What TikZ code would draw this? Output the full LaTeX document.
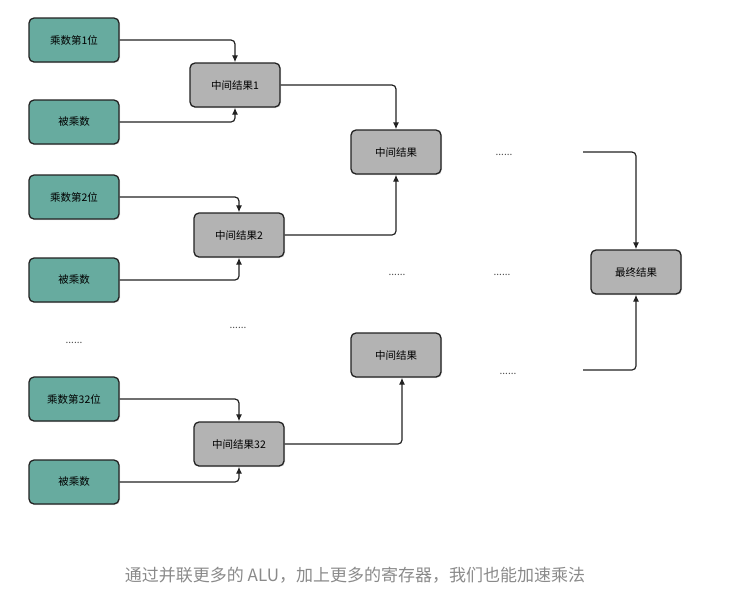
\documentclass[tikz,border=0pt]{standalone}
\usepackage{fontspec}
\setmainfont{Noto Sans CJK SC}
\usetikzlibrary{arrows.meta,shadows}
\definecolor{tealfill}{HTML}{67AB9F}
\definecolor{grayfill}{HTML}{B3B3B3}
\definecolor{edge}{HTML}{222222}
\definecolor{captiongray}{HTML}{8A8A8A}
\tikzset{
  box/.style={draw=edge, line width=1.3pt, rounded corners=5pt, minimum width=90pt, minimum height=44pt,
    inner sep=0pt, font=\fontsize{10.5}{12}\selectfont, drop shadow={shadow xshift=1pt, shadow yshift=-1pt, opacity=0.25}},
  inbox/.style={box, fill=tealfill},
  midbox/.style={box, fill=grayfill},
  conn/.style={draw=edge, line width=1.2pt, rounded corners=4pt, -{Latex[length=7pt,width=6pt]}},
  dots/.style={font=\fontsize{10}{12}\selectfont, text=black!70, inner sep=0pt}
}
\begin{document}
\begin{tikzpicture}[x=1pt,y=-1pt]
\useasboundingbox (0,0) rectangle (737,598);
% input boxes
\node[inbox] (m1) at (74,40) {乘数第1位};
\node[inbox] (b1) at (74,122) {被乘数};
\node[inbox] (m2) at (74,197) {乘数第2位};
\node[inbox] (b2) at (74,280) {被乘数};
\node[inbox] (m32) at (74,399) {乘数第32位};
\node[inbox] (b32) at (74,482) {被乘数};
% intermediate
\node[midbox] (r1) at (235,85) {中间结果1};
\node[midbox] (r2) at (239,235) {中间结果2};
\node[midbox] (r32) at (239,444) {中间结果32};
\node[midbox] (s1) at (396,152) {中间结果};
\node[midbox] (s2) at (396,355) {中间结果};
\node[midbox] (fin) at (636,272) {最终结果};
% free ends
\coordinate (t1) at (583,152);
\coordinate (t2) at (583,370);
% connectors
\draw[conn] (m1.east) -| (r1.north);
\draw[conn] (b1.east) -| (r1.south);
\draw[conn] (m2.east) -| (r2.north);
\draw[conn] (b2.east) -| (r2.south);
\draw[conn] (m32.east) -| (r32.north);
\draw[conn] (b32.east) -| (r32.south);
\draw[conn] (r1.east) -| (s1.north);
\draw[conn] (r2.east) -| (s1.south);
\draw[conn] (r32.east) -| ([xshift=6pt]s2.south);
\draw[conn] (t1) -| (fin.north);
\draw[conn] (t2) -| (fin.south);
% dots
\node[dots] (d1) at (504,155) {......};
\node[dots] (d2) at (397,275) {......};
\node[dots] (d3) at (502,275) {......};
\node[dots] (d4) at (238,328) {......};
\node[dots] (d5) at (74,343) {......};
\node[dots] (d6) at (508,374) {......};
% caption
\node[font=\fontsize{17}{20}\selectfont, text=captiongray] (cap) at (355,575) {通过并联更多的 ALU，加上更多的寄存器，我们也能加速乘法};
\end{tikzpicture}
\end{document}
